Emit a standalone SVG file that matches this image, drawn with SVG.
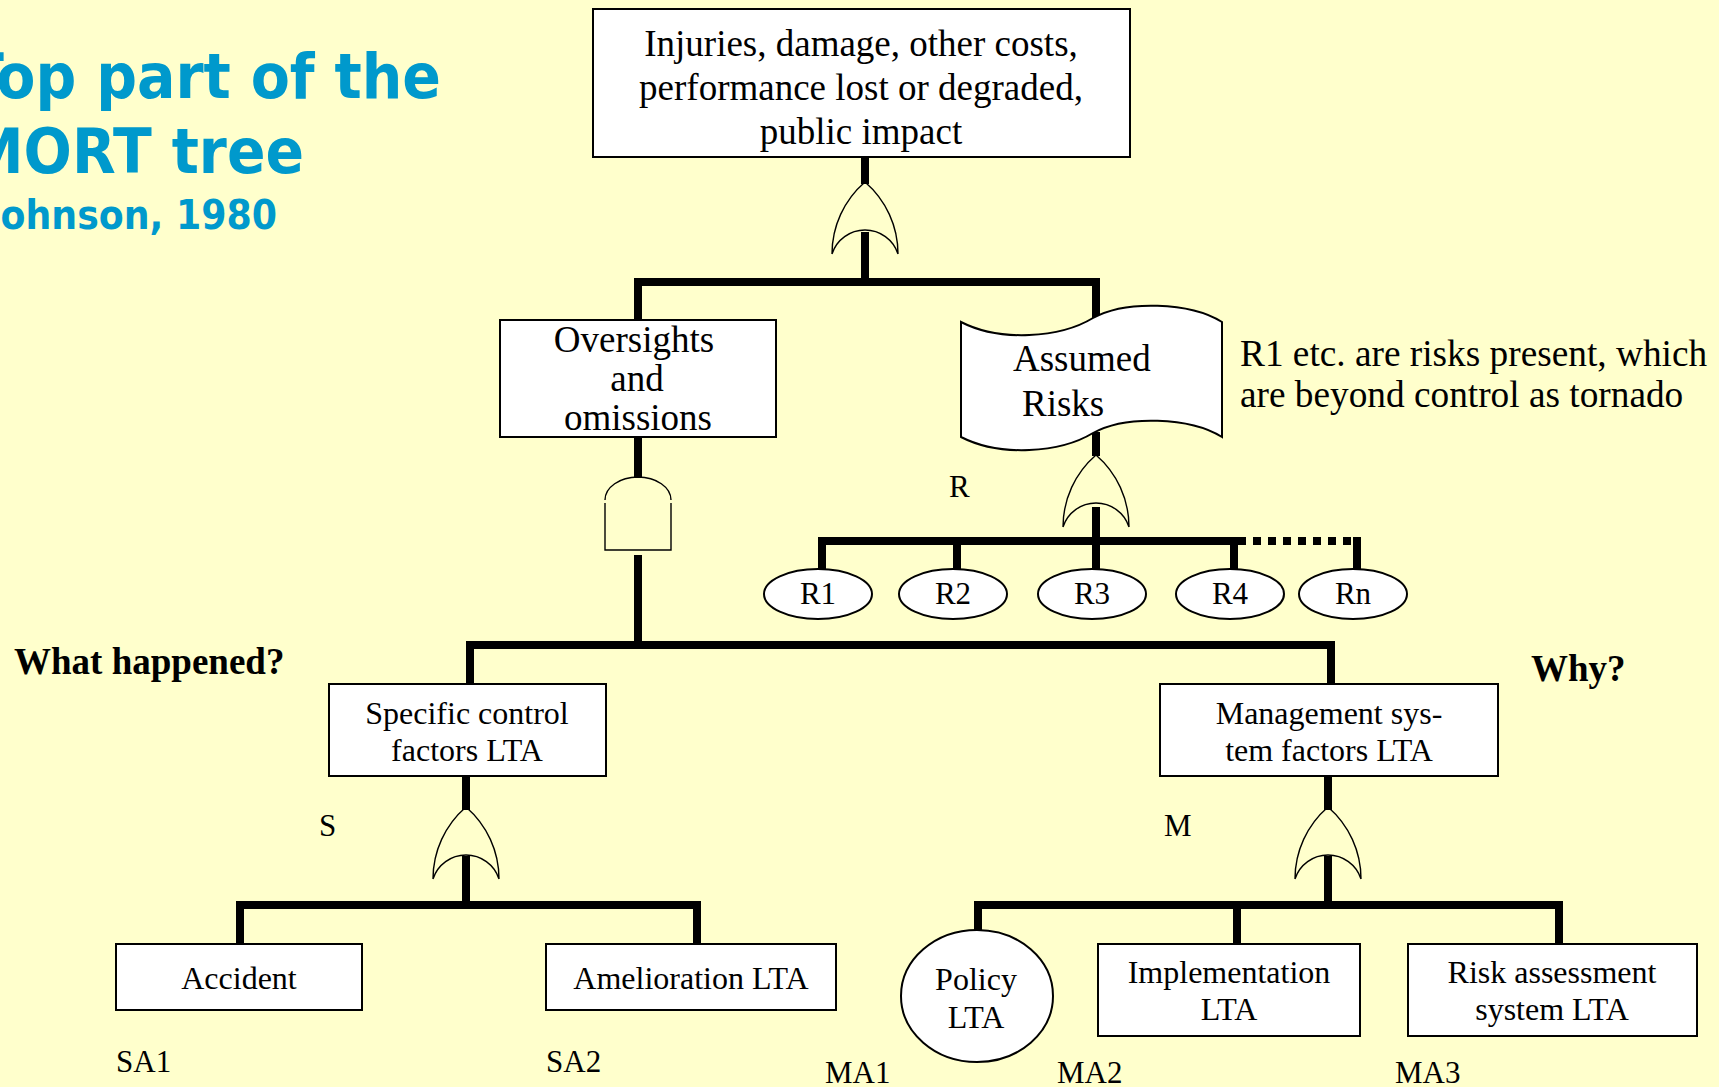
<svg xmlns="http://www.w3.org/2000/svg" width="1719" height="1087" viewBox="0 0 1719 1087">
  <style>
    .box { fill: #ffffff; stroke: #000000; stroke-width: 2; }
    .wire { fill: none; stroke: #000000; stroke-width: 8; stroke-linejoin: miter; }
    .dots { fill: none; stroke: #000000; stroke-width: 8; stroke-dasharray: 8 7; }
    .gate { fill: none; stroke: #000000; stroke-width: 1.4; }
    .t { font-family: "Liberation Serif", "Times New Roman", serif; fill: #000000; text-anchor: middle; }
    .l { font-family: "Liberation Serif", "Times New Roman", serif; fill: #000000; }
    .big { font-size: 37px; }
    .mid { font-size: 32px; }
    .lab { font-size: 31px; }
    .bold { font-weight: bold; font-size: 37px; }
    .title { font-family: "DejaVu Sans", Verdana, sans-serif; font-weight: bold; fill: #0099CC; }
  </style>
  <defs>
    <!-- OR gate, apex at the origin -->
    <g id="or-gate">
      <path class="gate" d="M0,0 A95,95 0 0 0 -33,72 M0,0 A95,95 0 0 1 33,72 M-33,72 A34.7,34.7 0 0 1 33,72"/>
    </g>
    <!-- AND gate, top of dome at the origin -->
    <g id="and-gate">
      <path class="gate" d="M-33,23 A33,23 0 0 1 33,23 M33,26 V73 H-33 V26"/>
    </g>
  </defs>

  <rect x="0" y="0" width="1719" height="1087" fill="#FFFFCC"/>

  <!-- heading, running off the left edge -->
  <g id="heading">
    <text class="title" x="-35" y="98" font-size="62" textLength="476" lengthAdjust="spacingAndGlyphs">Top part of the</text>
    <text class="title" x="-33" y="173" font-size="62" textLength="337" lengthAdjust="spacingAndGlyphs">MORT tree</text>
    <text class="title" x="-13" y="229" font-size="40" textLength="290" lengthAdjust="spacingAndGlyphs">Johnson, 1980</text>
  </g>

  <!-- connectors -->
  <g id="connectors">
    <path class="wire" d="M865,157 V184"/>
    <path class="wire" d="M865,232 V282"/>
    <path class="wire" d="M638,320 V282 H1096 V318"/>

    <path class="wire" d="M638,437 V478"/>
    <path class="wire" d="M638,555 V645"/>
    <path class="wire" d="M470,684 V645 H1331 V684"/>

    <path class="wire" d="M1096,432 V456"/>
    <path class="wire" d="M1096,507 V569"/>
    <path class="wire" d="M822,569 V541 H1238"/>
    <path class="wire" d="M957,541 V569"/>
    <path class="wire" d="M1234,541 V569"/>
    <path class="dots" d="M1238,541 H1353"/>
    <path class="wire" d="M1353,541 H1357 V569"/>

    <path class="wire" d="M466,776 V810"/>
    <path class="wire" d="M466,856 V905"/>
    <path class="wire" d="M240,944 V905 H697 V944"/>

    <path class="wire" d="M1328,776 V810"/>
    <path class="wire" d="M1328,856 V905"/>
    <path class="wire" d="M978,930 V905 H1559 V944"/>
    <path class="wire" d="M1237,905 V944"/>
  </g>

  <!-- gates -->
  <g id="gate-top"><use href="#or-gate" x="865" y="182"/></g>
  <g id="gate-oversights"><use href="#and-gate" x="638" y="477"/></g>
  <g id="gate-risks"><use href="#or-gate" x="1096" y="455"/></g>
  <g id="gate-specific"><use href="#or-gate" x="466" y="807"/></g>
  <g id="gate-management"><use href="#or-gate" x="1328" y="807"/></g>

  <!-- top event -->
  <g id="top-event">
    <rect class="box" x="593" y="9" width="537" height="148"/>
    <text class="t big" x="861" y="56">Injuries, damage, other costs,</text>
    <text class="t big" x="861" y="100">performance lost or degraded,</text>
    <text class="t big" x="861" y="144">public impact</text>
  </g>

  <g id="oversights">
    <rect class="box" x="500" y="320" width="276" height="117"/>
    <text class="t big" x="634" y="352">Oversights</text>
    <text class="t big" x="637" y="391">and</text>
    <text class="t big" x="638" y="430">omissions</text>
  </g>

  <g id="assumed-risks">
    <path class="box" d="M961,322 C1000,342 1060,338 1093,318 C1125,300 1190,302 1222,322 L1222,437 C1190,417 1125,415 1093,433 C1060,453 1000,457 961,437 Z"/>
    <text class="l big" x="1013" y="371">Assumed</text>
    <text class="l big" x="1022" y="416">Risks</text>
  </g>

  <g id="risk-note">
    <text class="l" font-size="37.3" x="1240" y="366">R1 etc. are risks present, which</text>
    <text class="l" font-size="37.3" x="1240" y="407">are beyond control as tornado</text>
  </g>

  <g id="label-r"><text class="l lab" x="949" y="497">R</text></g>

  <g id="r1"><ellipse class="box" cx="818" cy="594" rx="54" ry="25"/><text class="t lab" x="818" y="604">R1</text></g>
  <g id="r2"><ellipse class="box" cx="953" cy="594" rx="54" ry="25"/><text class="t lab" x="953" y="604">R2</text></g>
  <g id="r3"><ellipse class="box" cx="1092" cy="594" rx="54" ry="25"/><text class="t lab" x="1092" y="604">R3</text></g>
  <g id="r4"><ellipse class="box" cx="1230" cy="594" rx="54" ry="25"/><text class="t lab" x="1230" y="604">R4</text></g>
  <g id="rn"><ellipse class="box" cx="1353" cy="594" rx="54" ry="25"/><text class="t lab" x="1353" y="604">Rn</text></g>

  <g id="what-happened"><text class="l bold" x="14" y="674">What happened?</text></g>
  <g id="why"><text class="l bold" x="1531" y="681">Why?</text></g>

  <g id="specific-control">
    <rect class="box" x="329" y="684" width="277" height="92"/>
    <text class="t mid" x="467" y="724">Specific control</text>
    <text class="t mid" x="467" y="761">factors LTA</text>
  </g>
  <g id="label-s"><text class="l lab" x="319" y="836">S</text></g>

  <g id="management">
    <rect class="box" x="1160" y="684" width="338" height="92"/>
    <text class="t mid" x="1329" y="724">Management sys-</text>
    <text class="t mid" x="1329" y="761">tem factors LTA</text>
  </g>
  <g id="label-m"><text class="l lab" x="1164" y="836">M</text></g>

  <g id="accident">
    <rect class="box" x="116" y="944" width="246" height="66"/>
    <text class="t mid" x="239" y="989">Accident</text>
  </g>
  <g id="label-sa1"><text class="l lab" x="116" y="1072">SA1</text></g>

  <g id="amelioration">
    <rect class="box" x="546" y="944" width="290" height="66"/>
    <text class="t mid" x="691" y="989">Amelioration LTA</text>
  </g>
  <g id="label-sa2"><text class="l lab" x="546" y="1072">SA2</text></g>

  <g id="policy">
    <ellipse class="box" cx="977" cy="996" rx="76" ry="66"/>
    <text class="t mid" x="976" y="990">Policy</text>
    <text class="t mid" x="976" y="1028">LTA</text>
  </g>
  <g id="label-ma1"><text class="l lab" x="825" y="1083">MA1</text></g>

  <g id="implementation">
    <rect class="box" x="1098" y="944" width="262" height="92"/>
    <text class="t mid" x="1229" y="983">Implementation</text>
    <text class="t mid" x="1229" y="1020">LTA</text>
  </g>
  <g id="label-ma2"><text class="l lab" x="1057" y="1083">MA2</text></g>

  <g id="risk-assessment">
    <rect class="box" x="1408" y="944" width="289" height="92"/>
    <text class="t mid" x="1552" y="983">Risk assessment</text>
    <text class="t mid" x="1552" y="1020">system LTA</text>
  </g>
  <g id="label-ma3"><text class="l lab" x="1395" y="1083">MA3</text></g>
</svg>
